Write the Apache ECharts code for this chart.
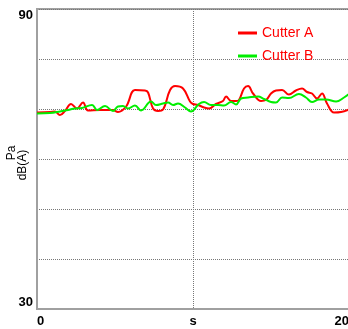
<!DOCTYPE html>
<html><head><meta charset="utf-8">
<script src="https://cdn.jsdelivr.net/npm/echarts@6/dist/echarts.min.js"></script>
<style>html,body{margin:0;padding:0;background:#fff}#c{width:348px;height:329px}</style>
</head><body><div id="c"></div>
<script>
var seriesNames = ['Cutter A', 'Cutter B'];
var cutterA = [
[0,69.3],[0.83,69.4],[1.15,69.5],[1.47,68.8],[1.79,69.6],[2.18,71.0],[2.56,70.1],[2.95,71.3],[3.27,69.7],[4.04,69.8],[4.87,69.8],
[5.19,69.4],[5.71,70.5],[6.28,73.8],[6.92,73.7],[7.12,73.3],[7.44,70.1],[7.76,69.6],[8.08,69.9],[8.53,73.8],[8.85,74.6],[9.36,74.1],
[9.81,71.5],[10,71.0],[10.32,70.8],[10.71,70.3],[11.03,70.1],[11.47,71.0],[11.92,71.6],[12.12,72.5],[12.44,71.6],[12.76,71.6],
[12.95,71.8],[13.27,74.1],[13.53,74.6],[13.85,73.1],[14.36,71.6],[14.68,71.8],[15.0,73.1],[15.32,73.7],[15.71,73.8],[16.15,72.9],
[16.6,73.7],[16.99,74.1],[17.31,73.4],[17.63,73.1],[17.95,72.1],[18.27,73.1],[18.59,71.1],[19.04,69.3],[19.49,69.4],[20,69.9]
];
var cutterB = [
[0,69.1],[0.83,69.2],[1.47,69.5],[1.99,69.8],[2.44,70.1],[2.88,70.2],[3.53,70.8],[3.85,69.8],[4.36,70.6],[4.87,69.6],[5.19,70.5],
[5.51,70.6],[5.83,70.1],[6.28,70.7],[6.67,69.7],[7.31,71.5],[7.63,70.8],[8.08,71.1],[8.4,71.3],[8.72,70.8],[9.04,71.1],[9.49,70.3],
[9.87,69.5],[10.38,71.0],[10.71,71.4],[11.15,70.8],[11.6,70.8],[11.99,70.7],[12.44,71.4],[12.76,70.9],[13.08,72.1],[13.53,72.3],
[14.17,72.5],[14.55,72.0],[15.0,71.4],[15.32,71.3],[15.71,72.3],[16.15,72.2],[16.79,73.0],[17.24,72.3],[17.63,71.4],[18.08,71.9],
[18.53,71.9],[19.17,71.5],[19.68,72.3],[20,73.0]
];
var xTickLabels = {0: '0', 10: 's', 20: '20'};
var yTickLabels = {30: '30', 90: '90'};
var yNameLines = ['Pa', 'dB(A)'];

var chart = echarts.init(document.getElementById('c'), null, {renderer: 'canvas'});
var font = 'Liberation Sans, Arial, sans-serif';
chart.setOption({
  animation: false,
  backgroundColor: '#fff',
  grid: {left: 37, top: 9, right: -1, bottom: 20, containLabel: false, outerBoundsMode: 'none',
         show: true, borderColor: '#a0a0a0', borderWidth: 2, backgroundColor: '#fff'},
  legend: {
    orient: 'vertical', left: 233, top: 21, itemGap: 9, itemWidth: 19, itemHeight: 3, icon: 'rect',
    textStyle: {color: '#ff0000', fontSize: 14, fontFamily: font},
    data: seriesNames
  },
  xAxis: {
    type: 'value', min: 0, max: 20, interval: 10,
    axisLine: {show: true, lineStyle: {color: '#a0a0a0', width: 2}},
    axisTick: {show: false},
    splitLine: {show: true, lineStyle: {color: '#777', type: 'dotted', width: 1}},
    axisLabel: {
      formatter: function (v) { return xTickLabels[v] !== undefined ? xTickLabels[v] : ''; },
      color: '#000', fontWeight: 'bold', fontSize: 13, fontFamily: font, margin: 6,
      alignMinLabel: 'left', alignMaxLabel: 'right'
    }
  },
  yAxis: {
    type: 'value', min: 30, max: 90, interval: 10,
    name: '{a|' + yNameLines[0] + '}\n{b|' + yNameLines[1] + '}', nameLocation: 'middle', nameRotate: 90, nameGap: 9,
    nameMoveOverlap: false,
    nameTextStyle: {color: '#000', fontSize: 12, fontFamily: font, lineHeight: 11,
      rich: {a: {fontSize: 12, fontFamily: font, color: '#000', lineHeight: 11, padding: [0, 0, 0, 12]},
             b: {fontSize: 12, fontFamily: font, color: '#000', lineHeight: 11, padding: [0, 12, 0, 0]}}},
    axisLine: {show: true, lineStyle: {color: '#a0a0a0', width: 2}},
    axisTick: {show: false},
    splitLine: {show: true, lineStyle: {color: '#777', type: 'dotted', width: 1}},
    axisLabel: {
      formatter: function (v) { return yTickLabels[v] !== undefined ? yTickLabels[v] : ''; },
      color: '#000', fontWeight: 'bold', fontSize: 13, fontFamily: font, margin: 4,
      verticalAlignMinLabel: 'bottom', verticalAlignMaxLabel: 'top'
    }
  },
  series: [
    {name: seriesNames[0], type: 'line', data: cutterA, smooth: 0.4, showSymbol: false, lineStyle: {color: '#ff0000', width: 2}, itemStyle: {color: '#ff0000'}},
    {name: seriesNames[1], type: 'line', data: cutterB, smooth: 0.4, showSymbol: false, lineStyle: {color: '#00ee00', width: 2}, itemStyle: {color: '#00ee00'}}
  ]
});
</script></body></html>
